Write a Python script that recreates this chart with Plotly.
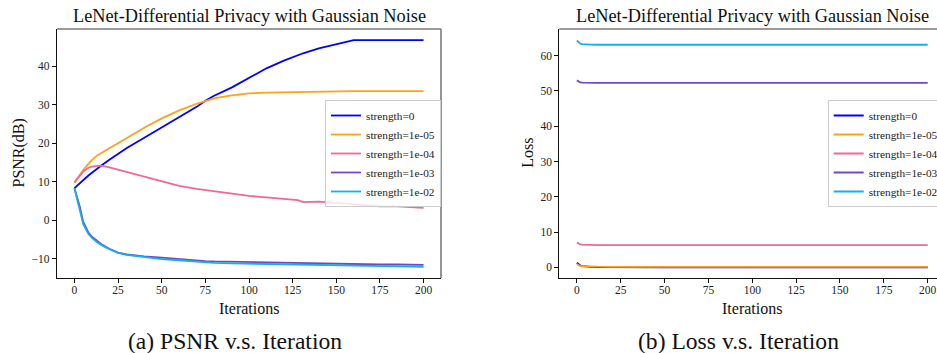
import plotly.graph_objects as go

# ---------------- data ----------------
iters_psnr = [0, 3, 5, 8, 10, 13, 16, 20, 25, 30, 40, 50, 60, 70, 75, 80, 90, 100,
              110, 120, 128, 131, 140, 150, 160, 170, 175, 185, 200]
psnr_s0 = [8.3, 9.6, 10.4, 11.6, 12.3, 13.4, 14.4, 15.7, 17.2, 18.7, 21.4, 24.1, 26.7, 29.4,
           31.0, 32.3, 34.4, 37.0, 39.4, 41.4, 42.9, 43.3, 44.6, 45.6, 46.7, 46.7, 46.7, 46.7, 46.7]
psnr_s1e5 = [9.8, 11.8, 13.0, 14.6, 15.6, 16.8, 17.6, 18.7, 20.0, 21.3, 24.0, 26.4, 28.5, 30.2,
             31.0, 31.6, 32.4, 32.9, 33.1, 33.2, 33.3, 33.3, 33.4, 33.5, 33.5, 33.5, 33.5, 33.5, 33.5]
psnr_s1e4 = [9.8, 11.6, 12.6, 13.6, 13.9, 14.1, 14.1, 13.7, 13.1, 12.6, 11.3, 10.1, 8.9, 8.1,
             7.8, 7.5, 6.9, 6.3, 5.9, 5.5, 5.2, 4.7, 4.8, 4.5, 4.1, 3.8, 3.6, 3.6, 3.2]
psnr_s1e3 = [8.3, 3.6, -0.4, -3.2, -4.3, -5.4, -6.4, -7.4, -8.4, -8.9, -9.4, -9.7, -10.1, -10.5,
             -10.6, -10.7, -10.8, -10.9, -11.0, -11.0, -11.1, -11.1, -11.2, -11.3, -11.4, -11.4,
             -11.5, -11.5, -11.6]
psnr_s1e2 = [8.3, 3.0, -1.0, -3.6, -4.6, -5.7, -6.6, -7.5, -8.5, -9.0, -9.6, -10.1, -10.4, -10.8,
             -11.0, -11.1, -11.2, -11.3, -11.4, -11.5, -11.6, -11.6, -11.7, -11.8, -11.9, -11.9,
             -12.0, -12.0, -12.1]

iters_loss = [0, 1, 2, 3, 5, 8, 12, 20, 50, 100, 150, 200]
loss_s0 = [1.3, 0.8, 0.5, 0.35, 0.2, 0.1, 0.05, 0.02, 0.0, 0.0, 0.0, 0.0]
loss_s1e5 = [0.9, 0.5, 0.35, 0.3, 0.25, 0.2, 0.17, 0.15, 0.15, 0.15, 0.15, 0.15]
loss_s1e4 = [7.0, 6.7, 6.5, 6.45, 6.4, 6.35, 6.3, 6.3, 6.3, 6.3, 6.3, 6.3]
loss_s1e3 = [53.0, 52.6, 52.4, 52.35, 52.3, 52.3, 52.3, 52.3, 52.3, 52.3, 52.3, 52.3]
loss_s1e2 = [64.3, 63.8, 63.4, 63.3, 63.2, 63.15, 63.1, 63.1, 63.1, 63.1, 63.1, 63.1]

labels = ["strength=0", "strength=1e-05", "strength=1e-04", "strength=1e-03", "strength=1e-02"]
colors = ["#0000FF", "#FFA11A", "#F0679A", "#7447C2", "#15AEEE"]

x_ticks = [0, 25, 50, 75, 100, 125, 150, 175, 200]
psnr_ticks = [-10, 0, 10, 20, 30, 40]
loss_ticks = [0, 10, 20, 30, 40, 50, 60]

title_text = "LeNet-Differential Privacy with Gaussian Noise"
caption_a = "(a) PSNR v.s. Iteration"
caption_b = "(b) Loss v.s. Iteration"

# ---------------- figure ----------------
FONT = "Liberation Serif, Times New Roman, serif"
W, H = 937, 353
fig = go.Figure()

psnr_series = [psnr_s0, psnr_s1e5, psnr_s1e4, psnr_s1e3, psnr_s1e2]
loss_series = [loss_s0, loss_s1e5, loss_s1e4, loss_s1e3, loss_s1e2]

for lab, col, ys in zip(labels, colors, psnr_series):
    fig.add_trace(go.Scatter(x=iters_psnr, y=ys, mode="lines", name=lab,
                             line=dict(color=col, width=1.8), xaxis="x", yaxis="y",
                             legend="legend"))
for lab, col, ys in zip(labels, colors, loss_series):
    fig.add_trace(go.Scatter(x=iters_loss, y=ys, mode="lines", name=lab,
                             line=dict(color=col, width=1.8), xaxis="x2", yaxis="y2",
                             legend="legend2"))

def px_x(p):
    return p / W

def px_y(p):
    return 1 - p / H

axis_common = dict(showgrid=False, zeroline=False, showline=True, linecolor="#111111",
                   linewidth=1.2, ticks="outside", ticklen=4, tickwidth=1,
                   tickcolor="#111111", tickfont=dict(family=FONT, size=11.5, color="#222222"))

fig.update_layout(
    width=W, height=H,
    margin=dict(l=0, r=0, t=0, b=0, autoexpand=False),
    paper_bgcolor="white", plot_bgcolor="white",
    xaxis=dict(domain=[px_x(57), px_x(441)], range=[-10, 210], tickvals=x_ticks,
               anchor="y", ticklabelstandoff=-3, **axis_common),
    yaxis=dict(domain=[px_y(278), px_y(29)], range=[-15.0, 49.6], tickvals=psnr_ticks,
               anchor="x", **axis_common),
    xaxis2=dict(domain=[px_x(559.3), 1.0], range=[-10, 205.3], tickvals=x_ticks,
                anchor="y2", ticklabelstandoff=-3, **axis_common),
    yaxis2=dict(domain=[px_y(278), px_y(29)], range=[-3.03, 67.56], tickvals=loss_ticks,
                anchor="x2", **axis_common),
    legend=dict(x=px_x(325), y=px_y(100), xanchor="left", yanchor="top",
                bgcolor="rgba(255,255,255,0.8)", bordercolor="#cccccc", borderwidth=1,
                font=dict(family=FONT, size=11.3, color="#222222")),
    legend2=dict(x=px_x(827.7), y=px_y(100), xanchor="left", yanchor="top",
                 bgcolor="rgba(255,255,255,0.8)", bordercolor="#cccccc", borderwidth=1,
                 font=dict(family=FONT, size=11.3, color="#222222")),
)

# top / right spines (lighter grey as in reference)
fig.add_shape(type="line", xref="x domain", yref="y domain", x0=0, x1=1, y0=1, y1=1,
              line=dict(color="#7a7a7a", width=1.6))
fig.add_shape(type="line", xref="x domain", yref="y domain", x0=1, x1=1, y0=0, y1=1,
              line=dict(color="#7a7a7a", width=1.6))
fig.add_shape(type="line", xref="x2 domain", yref="y2 domain", x0=0, x1=1, y0=1, y1=1,
              line=dict(color="#7a7a7a", width=1.6))

def ann(text, x, y, size, angle=0):
    fig.add_annotation(text=text, x=px_x(x), y=px_y(y), xref="paper", yref="paper",
                       showarrow=False, xanchor="center", yanchor="middle", textangle=angle,
                       font=dict(family=FONT, size=size, color="#111111"))

ann(title_text, 249, 16, 18.3)
ann(title_text, 752.2, 16, 18.3)
ann("Iterations", 249, 308, 16)
ann("Iterations", 751.7, 308, 16)
ann("PSNR(dB)", 18, 153.5, 16, -90)
ann("Loss", 526.7, 153, 16, -90)
ann(caption_a, 235, 341, 23.6)
ann(caption_b, 738, 341, 23.6)

fig.write_html("out.html")
